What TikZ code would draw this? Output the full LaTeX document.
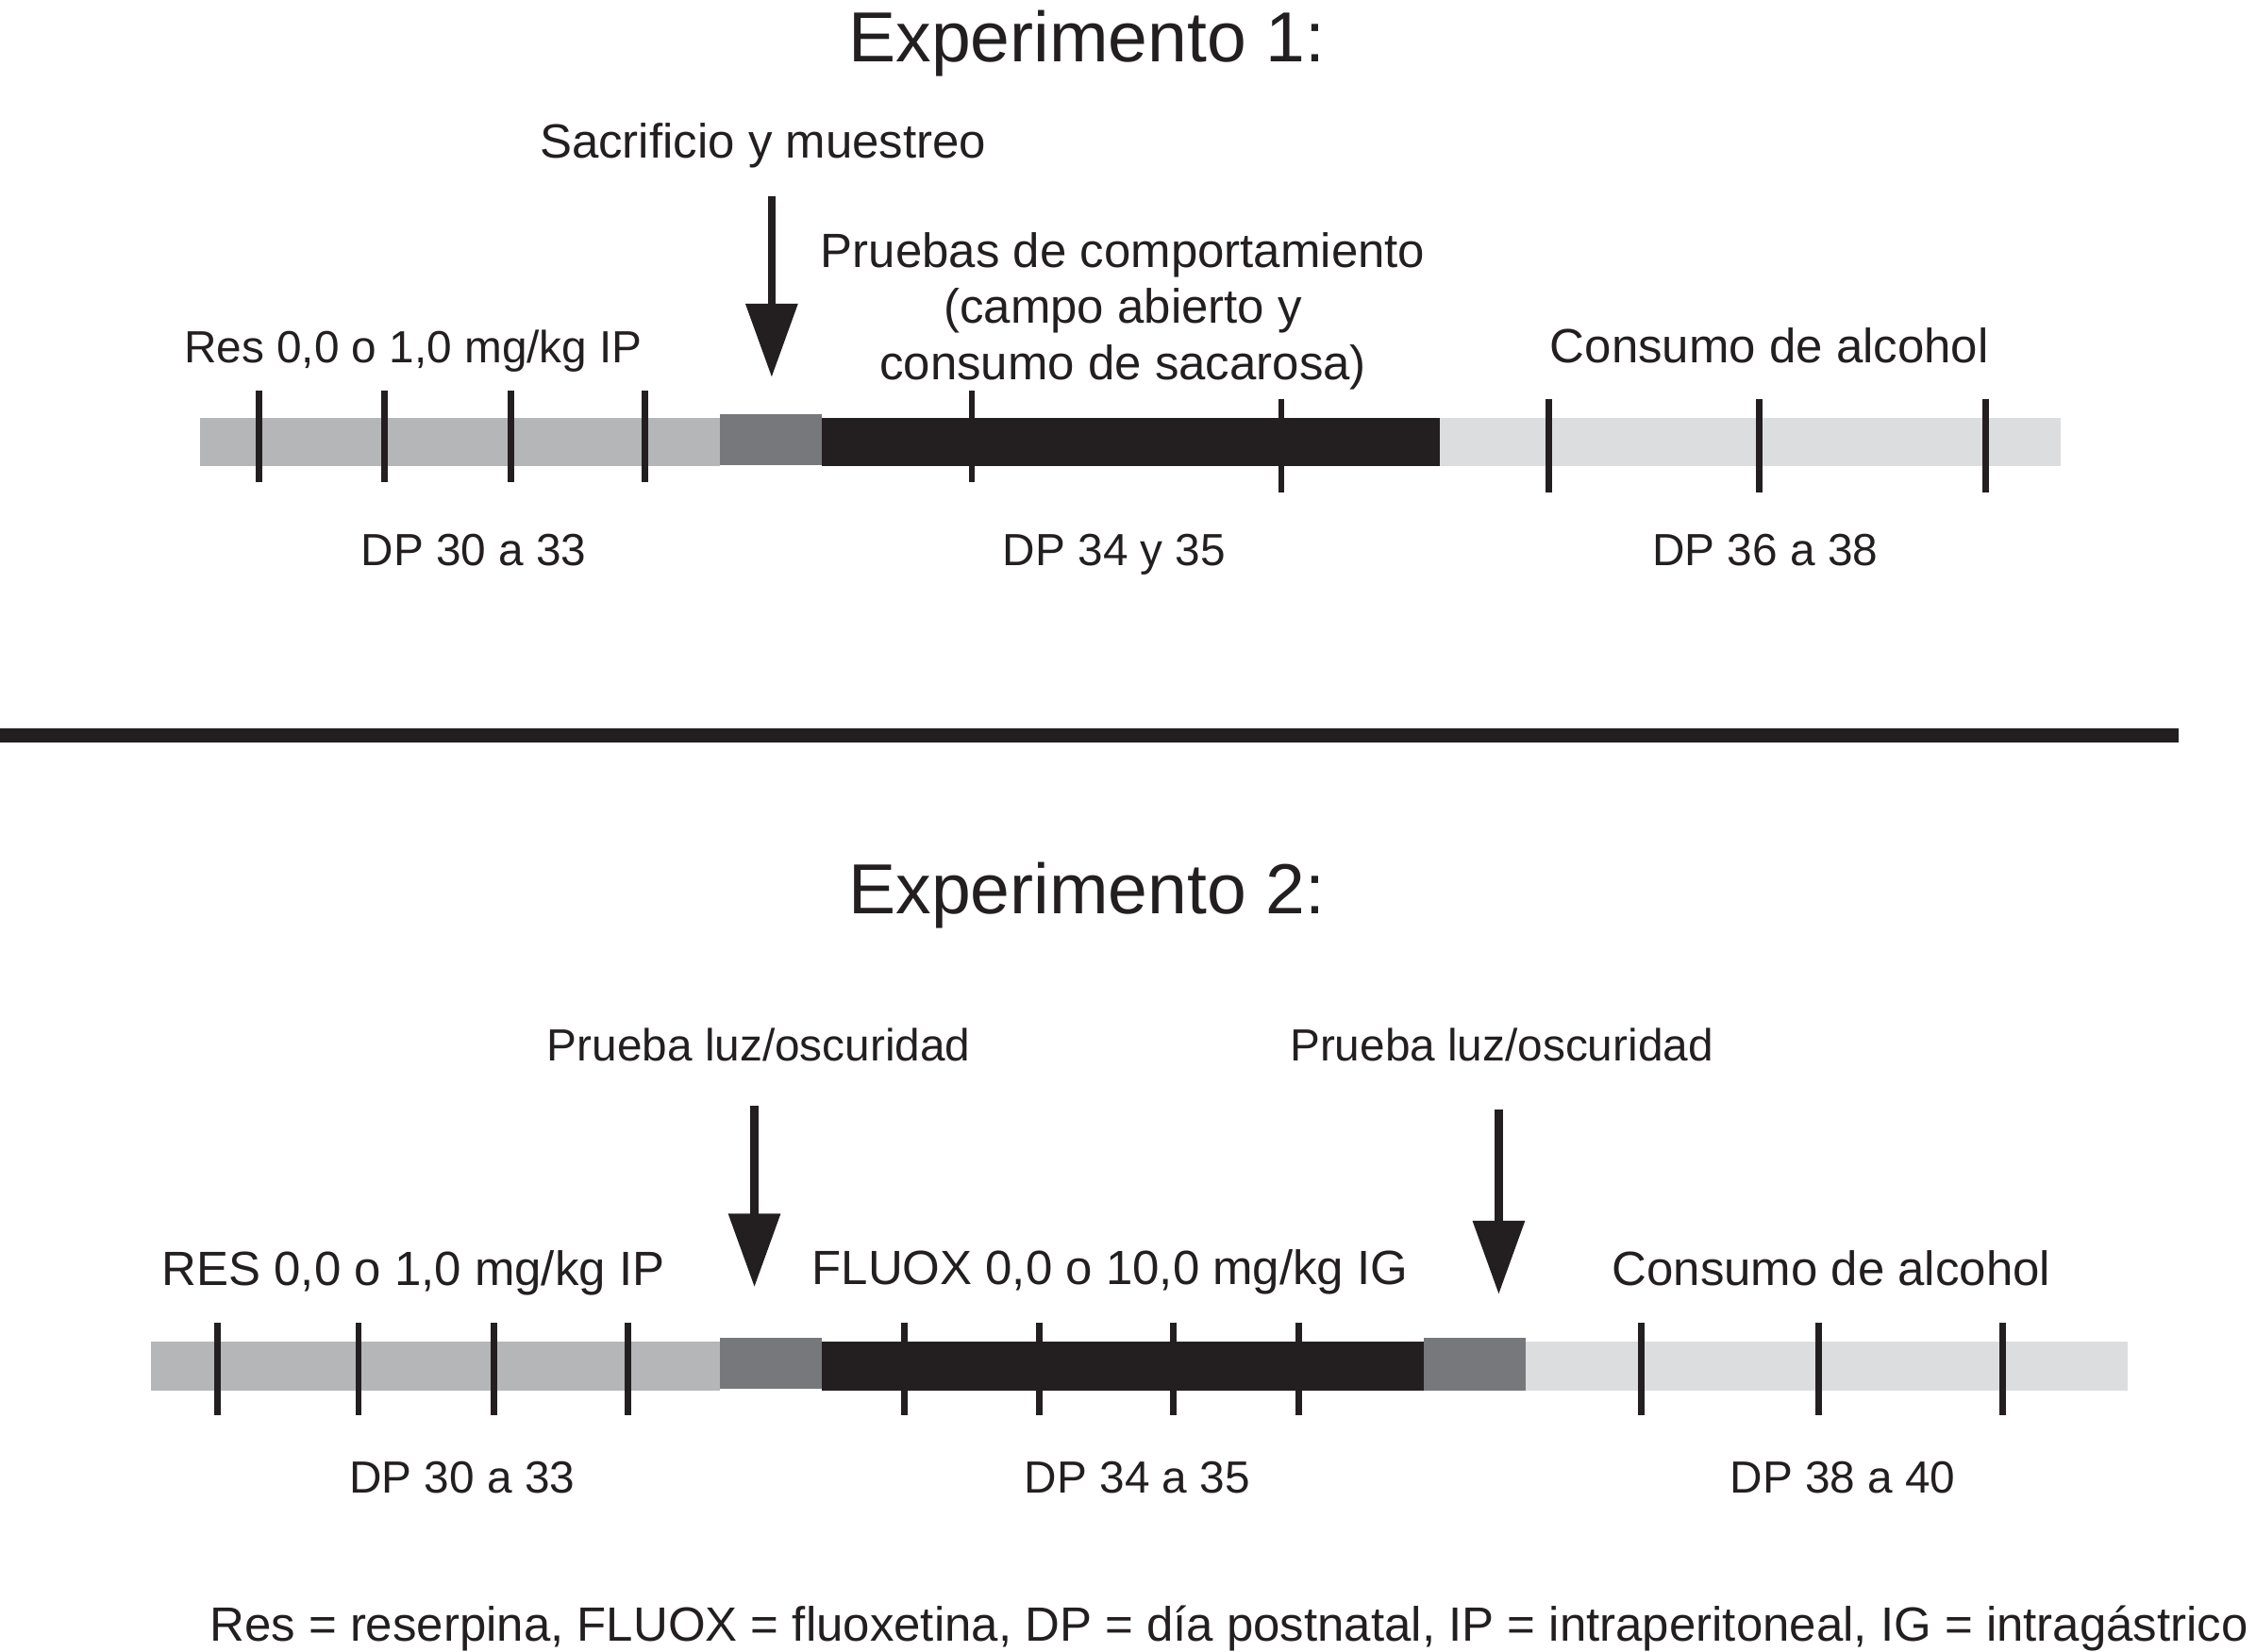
\documentclass[tikz,border=0pt]{standalone}
\usepackage{fontspec}
\setmainfont{Liberation Sans}
\usetikzlibrary{arrows.meta}
\tikzset{>={Triangle[length=0.51cm,width=0.35cm]}}
\definecolor{barLight}{HTML}{B5B6B8}
\definecolor{barPale}{HTML}{DCDDDF}
\definecolor{barDark}{HTML}{77787B}
\definecolor{barBlack}{HTML}{231F20}
\tikzset{
  ttl/.style={font=\fontsize{14}{17}\selectfont, inner sep=0pt, anchor=base, barBlack},
  lbl/.style={font=\fontsize{9.5}{11.1}\selectfont, inner sep=0pt, anchor=base, barBlack},
  lblsmall/.style={font=\fontsize{8.9}{10.7}\selectfont, inner sep=0pt, anchor=base, barBlack},
  tick/.style={barBlack, line width=0.045cm},
  pointer/.style={->, barBlack, line width=0.055cm}
}

\begin{document}
\begin{tikzpicture}[x=0.01cm, y=-0.01cm]
\useasboundingbox (0,0) rectangle (1567,1147);

%% Experimento 1
\node [ttl] (title1) at (755,43) {Experimento 1:};
\node [lbl] (sac) at (530,110) {Sacrificio y muestreo};
\node [lbl, anchor=center, align=center] (pruebas) at (780,216) {Pruebas de comportamiento\\(campo abierto y\\consumo de sacarosa)};
\node [lblsmall] (res1) at (287,252) {Res 0,0 o 1,0 mg/kg IP};
\node [lbl] (alc1) at (1229,252) {Consumo de alcohol};
\coordinate (a1top) at (536,136);
\coordinate (a1tip) at (536,262);
\draw [pointer] (a1top) -- (a1tip);
% bar
\fill [barLight] (139,290) rectangle (500,324);
\fill [barDark] (500,288) rectangle (571,323);
\fill [barBlack] (571,290) rectangle (1000,324);
\fill [barPale] (1000,290) rectangle (1431,324);
\draw [tick] (180,271) -- (180,335);
\draw [tick] (267,271) -- (267,335);
\draw [tick] (355,271) -- (355,335);
\draw [tick] (448,271) -- (448,335);
\draw [tick] (675,271) -- (675,335);
\draw [tick] (890,277) -- (890,342);
\draw [tick] (1076,277) -- (1076,342);
\draw [tick] (1222,277) -- (1222,342);
\draw [tick] (1379,277) -- (1379,342);
\node [lblsmall] (dp1a) at (329,393) {DP 30 a 33};
\node [lblsmall] (dp1b) at (774,393) {DP 34 y 35};
\node [lblsmall] (dp1c) at (1226,393) {DP 36 a 38};

%% separator
\draw [barBlack, line width=0.1cm] (0,511) -- (1513,511);

%% Experimento 2
\node [ttl] (title2) at (755,635) {Experimento 2:};
\node [lblsmall] (luz1) at (527,737) {Prueba luz/oscuridad};
\node [lblsmall] (luz2) at (1043,737) {Prueba luz/oscuridad};
\node [lbl] (res2) at (287,893) {RES 0,0 o 1,0 mg/kg IP};
\node [lbl] (fluox) at (771,892) {FLUOX 0,0 o 10,0 mg/kg IG};
\node [lbl] (alc2) at (1272,893) {Consumo de alcohol};
\coordinate (a2top) at (524,768);
\coordinate (a2tip) at (524,894);
\coordinate (a3top) at (1041,771);
\coordinate (a3tip) at (1041,899);
\draw [pointer] (a2top) -- (a2tip);
\draw [pointer] (a3top) -- (a3tip);
% bar
\fill [barLight] (105,932) rectangle (500,966);
\fill [barDark] (500,929) rectangle (571,965);
\fill [barBlack] (571,932) rectangle (989,966);
\fill [barDark] (989,929) rectangle (1060,966);
\fill [barPale] (1060,932) rectangle (1478,966);
\draw [tick] (151,919) -- (151,983);
\draw [tick] (249,919) -- (249,983);
\draw [tick] (343,919) -- (343,983);
\draw [tick] (436,919) -- (436,983);
\draw [tick] (628,919) -- (628,983);
\draw [tick] (722,919) -- (722,983);
\draw [tick] (815,919) -- (815,983);
\draw [tick] (902,919) -- (902,983);
\draw [tick] (1140,919) -- (1140,983);
\draw [tick] (1263,919) -- (1263,983);
\draw [tick] (1391,919) -- (1391,983);
\node [lblsmall] (dp2a) at (321,1037) {DP 30 a 33};
\node [lblsmall] (dp2b) at (790,1037) {DP 34 a 35};
\node [lblsmall] (dp2c) at (1280,1037) {DP 38 a 40};

%% legend
\node [lbl, anchor=base west] (legend) at (145,1140) {Res = reserpina, FLUOX = fluoxetina, DP = día postnatal, IP = intraperitoneal, IG = intragástrico};
\end{tikzpicture}
\end{document}
